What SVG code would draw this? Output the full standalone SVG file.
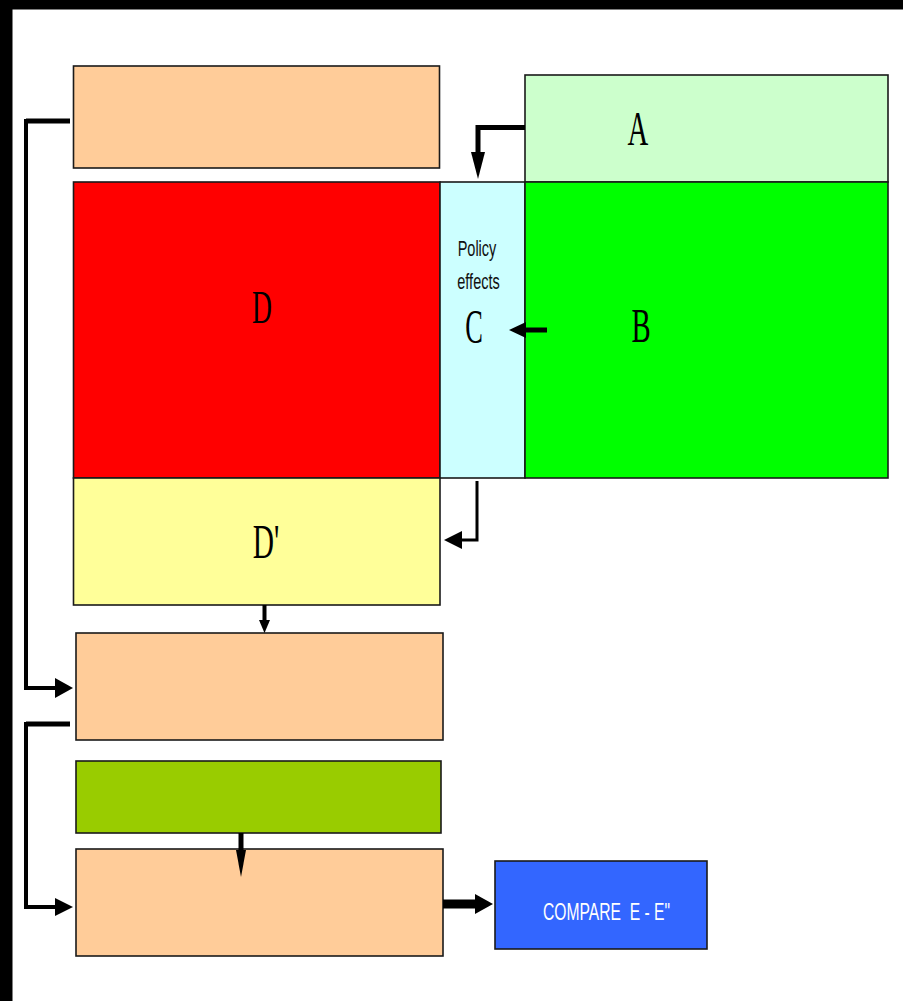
<svg xmlns="http://www.w3.org/2000/svg" width="903" height="1001" viewBox="0 0 903 1001">
<style>
.box{stroke:#1a1a1a;stroke-width:1.6}
.peach{fill:#ffcc99}
.ser{font-family:"Liberation Serif","Times New Roman",serif;fill:#000}
.sans{font-family:"Liberation Sans",Arial,sans-serif}
.ln{fill:none;stroke:#000;stroke-linejoin:miter}
.hd{fill:#000}
</style>
<rect x="0" y="0" width="903" height="1001" fill="#fff"/>
<rect x="0" y="0" width="903" height="9.5" fill="#000"/>
<rect x="0" y="0" width="12.5" height="1001" fill="#000"/>

<g id="box-top"><rect class="box peach" x="73.5" y="66" width="366" height="102"/></g>
<g id="node-A"><rect class="box" x="525" y="75" width="363" height="107" fill="#ccffcc"/>
<text class="ser" font-size="48" text-anchor="middle" transform="translate(638,145) scale(0.6,1)">A</text></g>
<g id="node-D"><rect class="box" x="73.5" y="182" width="366.5" height="296" fill="#ff0000"/>
<text class="ser" font-size="46" text-anchor="middle" transform="translate(262,323) scale(0.6,1)">D</text></g>
<g id="node-C"><rect class="box" x="440" y="182" width="85" height="296" fill="#ccffff"/>
<text class="sans" font-size="22" fill="#111" text-anchor="middle" transform="translate(477,256) scale(0.66,1)">Policy</text>
<text class="sans" font-size="22" fill="#111" text-anchor="middle" transform="translate(478.5,289) scale(0.66,1)">effects</text>
<text class="ser" font-size="48" text-anchor="middle" transform="translate(474,343) scale(0.55,1)">C</text></g>
<g id="node-B"><rect class="box" x="525" y="182" width="363" height="296" fill="#00ff00"/>
<text class="ser" font-size="48" text-anchor="middle" transform="translate(641,342) scale(0.6,1)">B</text></g>
<g id="node-Dp"><rect class="box" x="73.5" y="478" width="366.5" height="127" fill="#ffff99"/>
<text class="ser" font-size="49" text-anchor="middle" transform="translate(266,558) scale(0.6,1)">D'</text></g>
<g id="box-mid"><rect class="box peach" x="76" y="633" width="367" height="107"/></g>
<g id="box-green"><rect class="box" x="76" y="761" width="365" height="72" fill="#99cc00"/></g>
<g id="box-bottom"><rect class="box peach" x="76" y="849" width="367" height="107"/></g>
<g id="node-compare"><rect class="box" x="495" y="861" width="212" height="88" fill="#3366ff"/>
<text class="sans" font-size="23" fill="#fff" x="543" y="920" textLength="127" lengthAdjust="spacingAndGlyphs">COMPARE&#160; E - E"</text></g>

<g id="connectors">
<path class="ln" stroke-width="5" d="M70,121 H26"/>
<path class="ln" stroke-width="4" d="M26,119 V688 H58"/>
<polygon class="hd" points="55,678 73,688 55,698"/>
<path class="ln" stroke-width="5" d="M70,724 H26"/>
<path class="ln" stroke-width="4" d="M26,722 V907 H58"/>
<polygon class="hd" points="55,898 73,907 55,916"/>
<path class="ln" stroke-width="5" d="M525,127.5 H478 V155"/>
<polygon class="hd" points="471,152 485,152 478,179"/>
<path class="ln" stroke-width="5" d="M547,330 H522"/>
<polygon class="hd" points="526,322 526,338 509,330"/>
<path class="ln" stroke-width="3" d="M477,481 V540 H458"/>
<polygon class="hd" points="462,531 462,549 444,540"/>
<path class="ln" stroke-width="4" d="M264.5,605 V622"/>
<polygon class="hd" points="259,620 270,620 264.5,633"/>
<path class="ln" stroke-width="5" d="M241,833 V852"/>
<polygon class="hd" points="236,850 246,850 241,877"/>
<path class="ln" stroke-width="9" d="M443,904 H478"/>
<polygon class="hd" points="475,894 475,914 493,904"/>
</g>
</svg>
